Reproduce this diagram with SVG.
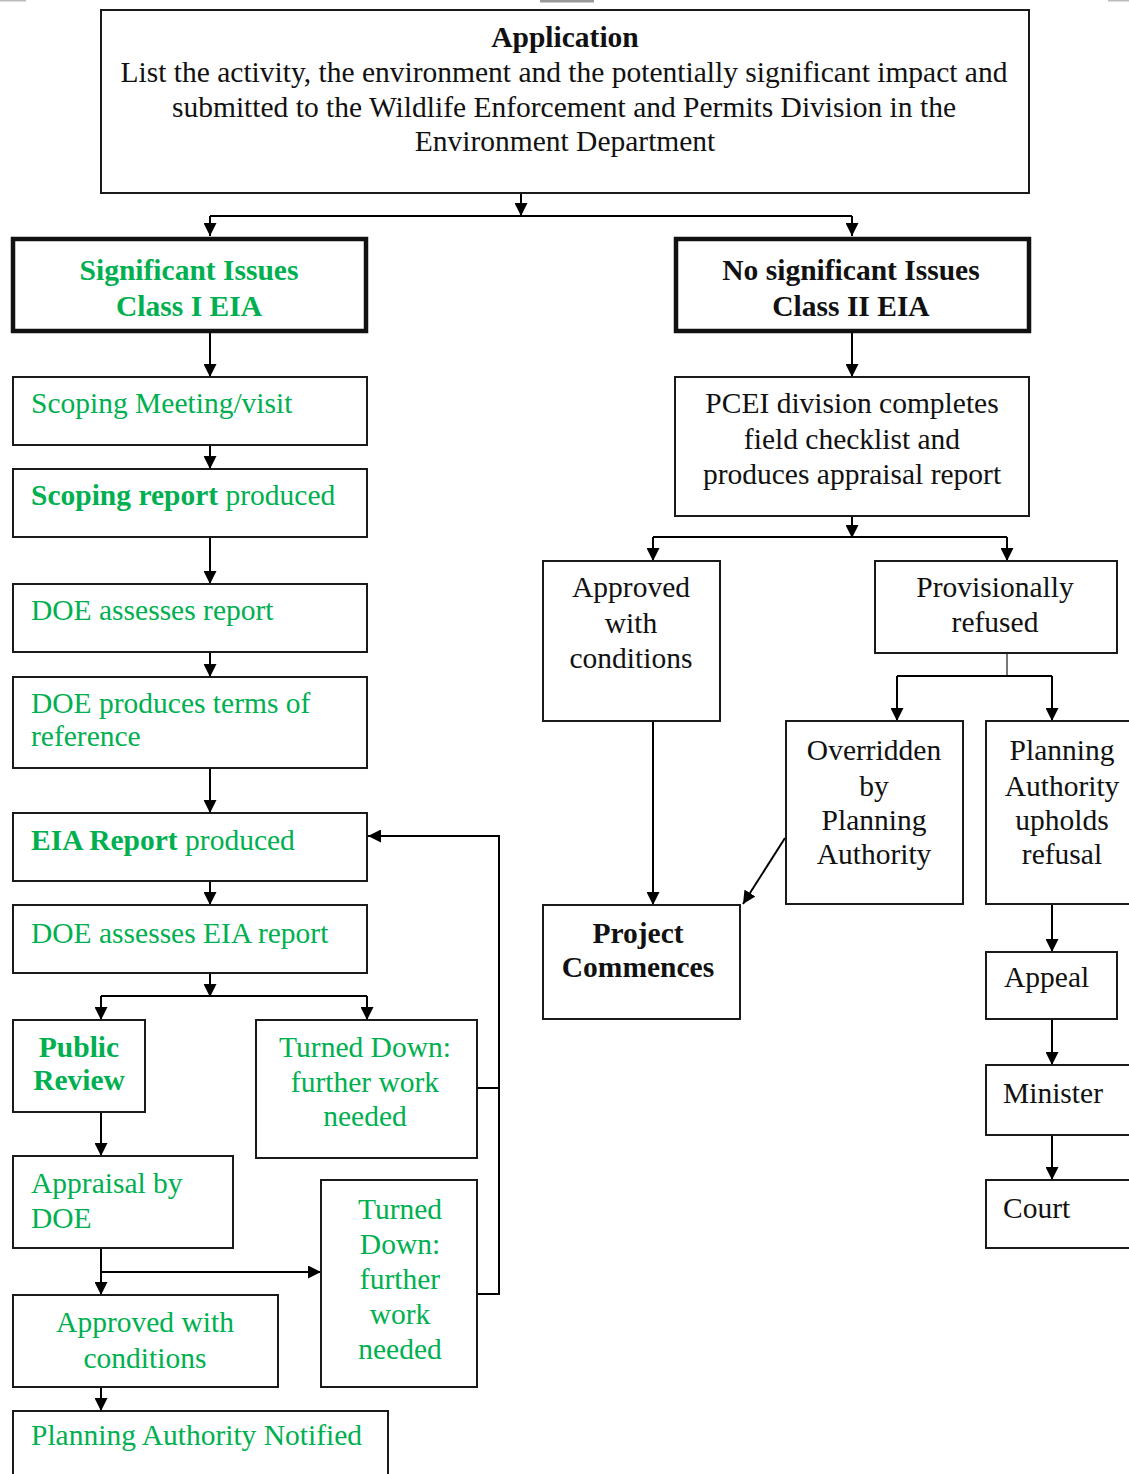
<svg xmlns="http://www.w3.org/2000/svg" width="1129" height="1474" viewBox="0 0 1129 1474">
<defs>
<marker id="ah" markerUnits="userSpaceOnUse" markerWidth="14" markerHeight="13" refX="13" refY="6.5" orient="auto">
<path d="M0,0 L13,6.5 L0,13 z" fill="#000"/>
</marker>
<style>
.box{fill:#fff;stroke:#1a1a1a;stroke-width:2}
.thick{fill:#fff;stroke:#111;stroke-width:4.5}
.t{font-family:"Liberation Serif","Times New Roman",serif;font-size:29.5px;fill:#111}
.g{fill:#00B050}
.b{font-weight:bold}
.c{text-anchor:middle}
.ln{fill:none;stroke:#000;stroke-width:2}
.arr{fill:none;stroke:#000;stroke-width:2;marker-end:url(#ah)}
</style>
</defs>
<rect width="1129" height="1474" fill="#fff"/>
<g id="artifacts" fill="#999">
<rect x="540" y="0" width="54" height="2.5"/>
<rect x="0" y="0" width="26" height="1.5" fill="#bbb"/>
<rect x="1108" y="0" width="21" height="1.5" fill="#bbb"/>
</g>
<g id="connectors">
<path class="arr" d="M521,194 V216"/>
<path class="ln" d="M210,216 H852"/>
<path class="arr" d="M210,216 V236"/>
<path class="arr" d="M852,216 V236"/>
<path class="arr" d="M210,333 V377"/>
<path class="arr" d="M210,445 V469"/>
<path class="arr" d="M210,537 V584"/>
<path class="arr" d="M210,652 V677"/>
<path class="arr" d="M210,768 V813"/>
<path class="arr" d="M210,881 V905"/>
<path class="arr" d="M210,973 V997"/>
<path class="ln" d="M101,996 H367"/>
<path class="arr" d="M101,996 V1020"/>
<path class="arr" d="M367,996 V1020"/>
<path class="arr" d="M101,1112 V1156"/>
<path class="arr" d="M101,1248 V1295"/>
<path class="arr" d="M101,1272 H321"/>
<path class="arr" d="M101,1387 V1411"/>
<path class="ln" d="M477,1088 H499"/>
<path class="arr" d="M477,1294 H499 V836 H368"/>
<path class="arr" d="M852,333 V377"/>
<path class="arr" d="M852,516 V538"/>
<path class="ln" d="M653,537 H1007"/>
<path class="arr" d="M653,537 V561"/>
<path class="arr" d="M1007,537 V561"/>
<path class="arr" d="M653,721 V905"/>
<path d="M1007,653 V676" fill="none" stroke="#777" stroke-width="2"/>
<path class="ln" d="M897,676 H1052"/>
<path class="arr" d="M897,676 V721"/>
<path class="arr" d="M1052,676 V721"/>
<path class="arr" d="M785,838 L743,904"/>
<path class="arr" d="M1052,904 V952"/>
<path class="arr" d="M1052,1019 V1065"/>
<path class="arr" d="M1052,1135 V1180"/>
</g>
<g id="application">
<rect class="box" x="101" y="10" width="928" height="183"/>
<text class="t b c" x="565" y="47">Application</text>
<text class="t c" x="564" y="82">List the activity, the environment and the potentially significant impact and</text>
<text class="t c" x="564" y="117">submitted to the Wildlife Enforcement and Permits Division in the</text>
<text class="t c" x="565" y="151">Environment Department</text>
</g>
<g id="significant">
<rect class="thick" x="13" y="239" width="353" height="92"/>
<text class="t b c g" x="189" y="280">Significant Issues</text>
<text class="t b c g" x="189" y="316">Class I EIA</text>
</g>
<g id="no-significant">
<rect class="thick" x="676" y="239" width="353" height="92"/>
<text class="t b c" x="851" y="280">No significant Issues</text>
<text class="t b c" x="851" y="316">Class II EIA</text>
</g>
<g id="scoping-meeting">
<rect class="box" x="13" y="377" width="354" height="68"/>
<text class="t g" x="31" y="413">Scoping Meeting/visit</text>
</g>
<g id="scoping-report">
<rect class="box" x="13" y="469" width="354" height="68"/>
<text class="t g" x="31" y="505"><tspan class="b">Scoping report</tspan> produced</text>
</g>
<g id="doe-assesses-report">
<rect class="box" x="13" y="584" width="354" height="68"/>
<text class="t g" x="31" y="620">DOE assesses report</text>
</g>
<g id="doe-terms">
<rect class="box" x="13" y="677" width="354" height="91"/>
<text class="t g" x="31" y="713">DOE produces terms of</text>
<text class="t g" x="31" y="746">reference</text>
</g>
<g id="eia-report">
<rect class="box" x="13" y="813" width="354" height="68"/>
<text class="t g" x="31" y="850"><tspan class="b">EIA Report</tspan> produced</text>
</g>
<g id="doe-assesses-eia">
<rect class="box" x="13" y="905" width="354" height="68"/>
<text class="t g" x="31" y="943">DOE assesses EIA report</text>
</g>
<g id="public-review">
<rect class="box" x="13" y="1020" width="132" height="92"/>
<text class="t b c g" x="79" y="1057">Public</text>
<text class="t b c g" x="79" y="1090">Review</text>
</g>
<g id="turned-down-1">
<rect class="box" x="256" y="1020" width="221" height="138"/>
<text class="t c g" x="365" y="1057">Turned Down:</text>
<text class="t c g" x="365" y="1092">further work</text>
<text class="t c g" x="365" y="1126">needed</text>
</g>
<g id="appraisal">
<rect class="box" x="13" y="1156" width="220" height="92"/>
<text class="t g" x="31" y="1193">Appraisal by</text>
<text class="t g" x="31" y="1228">DOE</text>
</g>
<g id="turned-down-2">
<rect class="box" x="321" y="1180" width="156" height="207"/>
<text class="t c g" x="400" y="1219">Turned</text>
<text class="t c g" x="400" y="1254">Down:</text>
<text class="t c g" x="400" y="1289">further</text>
<text class="t c g" x="400" y="1324">work</text>
<text class="t c g" x="400" y="1359">needed</text>
</g>
<g id="approved-left">
<rect class="box" x="13" y="1295" width="265" height="92"/>
<text class="t c g" x="145" y="1332">Approved with</text>
<text class="t c g" x="145" y="1368">conditions</text>
</g>
<g id="planning-notified">
<rect class="box" x="13" y="1411" width="375" height="90"/>
<text class="t g" x="31" y="1445">Planning Authority Notified</text>
</g>
<g id="pcei">
<rect class="box" x="675" y="377" width="354" height="139"/>
<text class="t c" x="852" y="413">PCEI division completes</text>
<text class="t c" x="852" y="449">field checklist and</text>
<text class="t c" x="852" y="484">produces appraisal report</text>
</g>
<g id="approved-right">
<rect class="box" x="543" y="561" width="177" height="160"/>
<text class="t c" x="631" y="597">Approved</text>
<text class="t c" x="631" y="633">with</text>
<text class="t c" x="631" y="668">conditions</text>
</g>
<g id="provisionally-refused">
<rect class="box" x="875" y="561" width="242" height="92"/>
<text class="t c" x="995" y="597">Provisionally</text>
<text class="t c" x="995" y="632">refused</text>
</g>
<g id="overridden">
<rect class="box" x="786" y="721" width="177" height="183"/>
<text class="t c" x="874" y="760">Overridden</text>
<text class="t c" x="874" y="796">by</text>
<text class="t c" x="874" y="830">Planning</text>
<text class="t c" x="874" y="864">Authority</text>
</g>
<g id="upholds">
<rect class="box" x="986" y="721" width="160" height="183"/>
<text class="t c" x="1062" y="760">Planning</text>
<text class="t c" x="1062" y="796">Authority</text>
<text class="t c" x="1062" y="830">upholds</text>
<text class="t c" x="1062" y="864">refusal</text>
</g>
<g id="project-commences">
<rect class="box" x="543" y="905" width="197" height="114"/>
<text class="t b c" x="638" y="943">Project</text>
<text class="t b c" x="638" y="977">Commences</text>
</g>
<g id="appeal">
<rect class="box" x="986" y="952" width="131" height="67"/>
<text class="t" x="1004" y="987">Appeal</text>
</g>
<g id="minister">
<rect class="box" x="986" y="1065" width="160" height="70"/>
<text class="t" x="1003" y="1103">Minister</text>
</g>
<g id="court">
<rect class="box" x="986" y="1180" width="160" height="68"/>
<text class="t" x="1003" y="1218">Court</text>
</g>
</svg>
